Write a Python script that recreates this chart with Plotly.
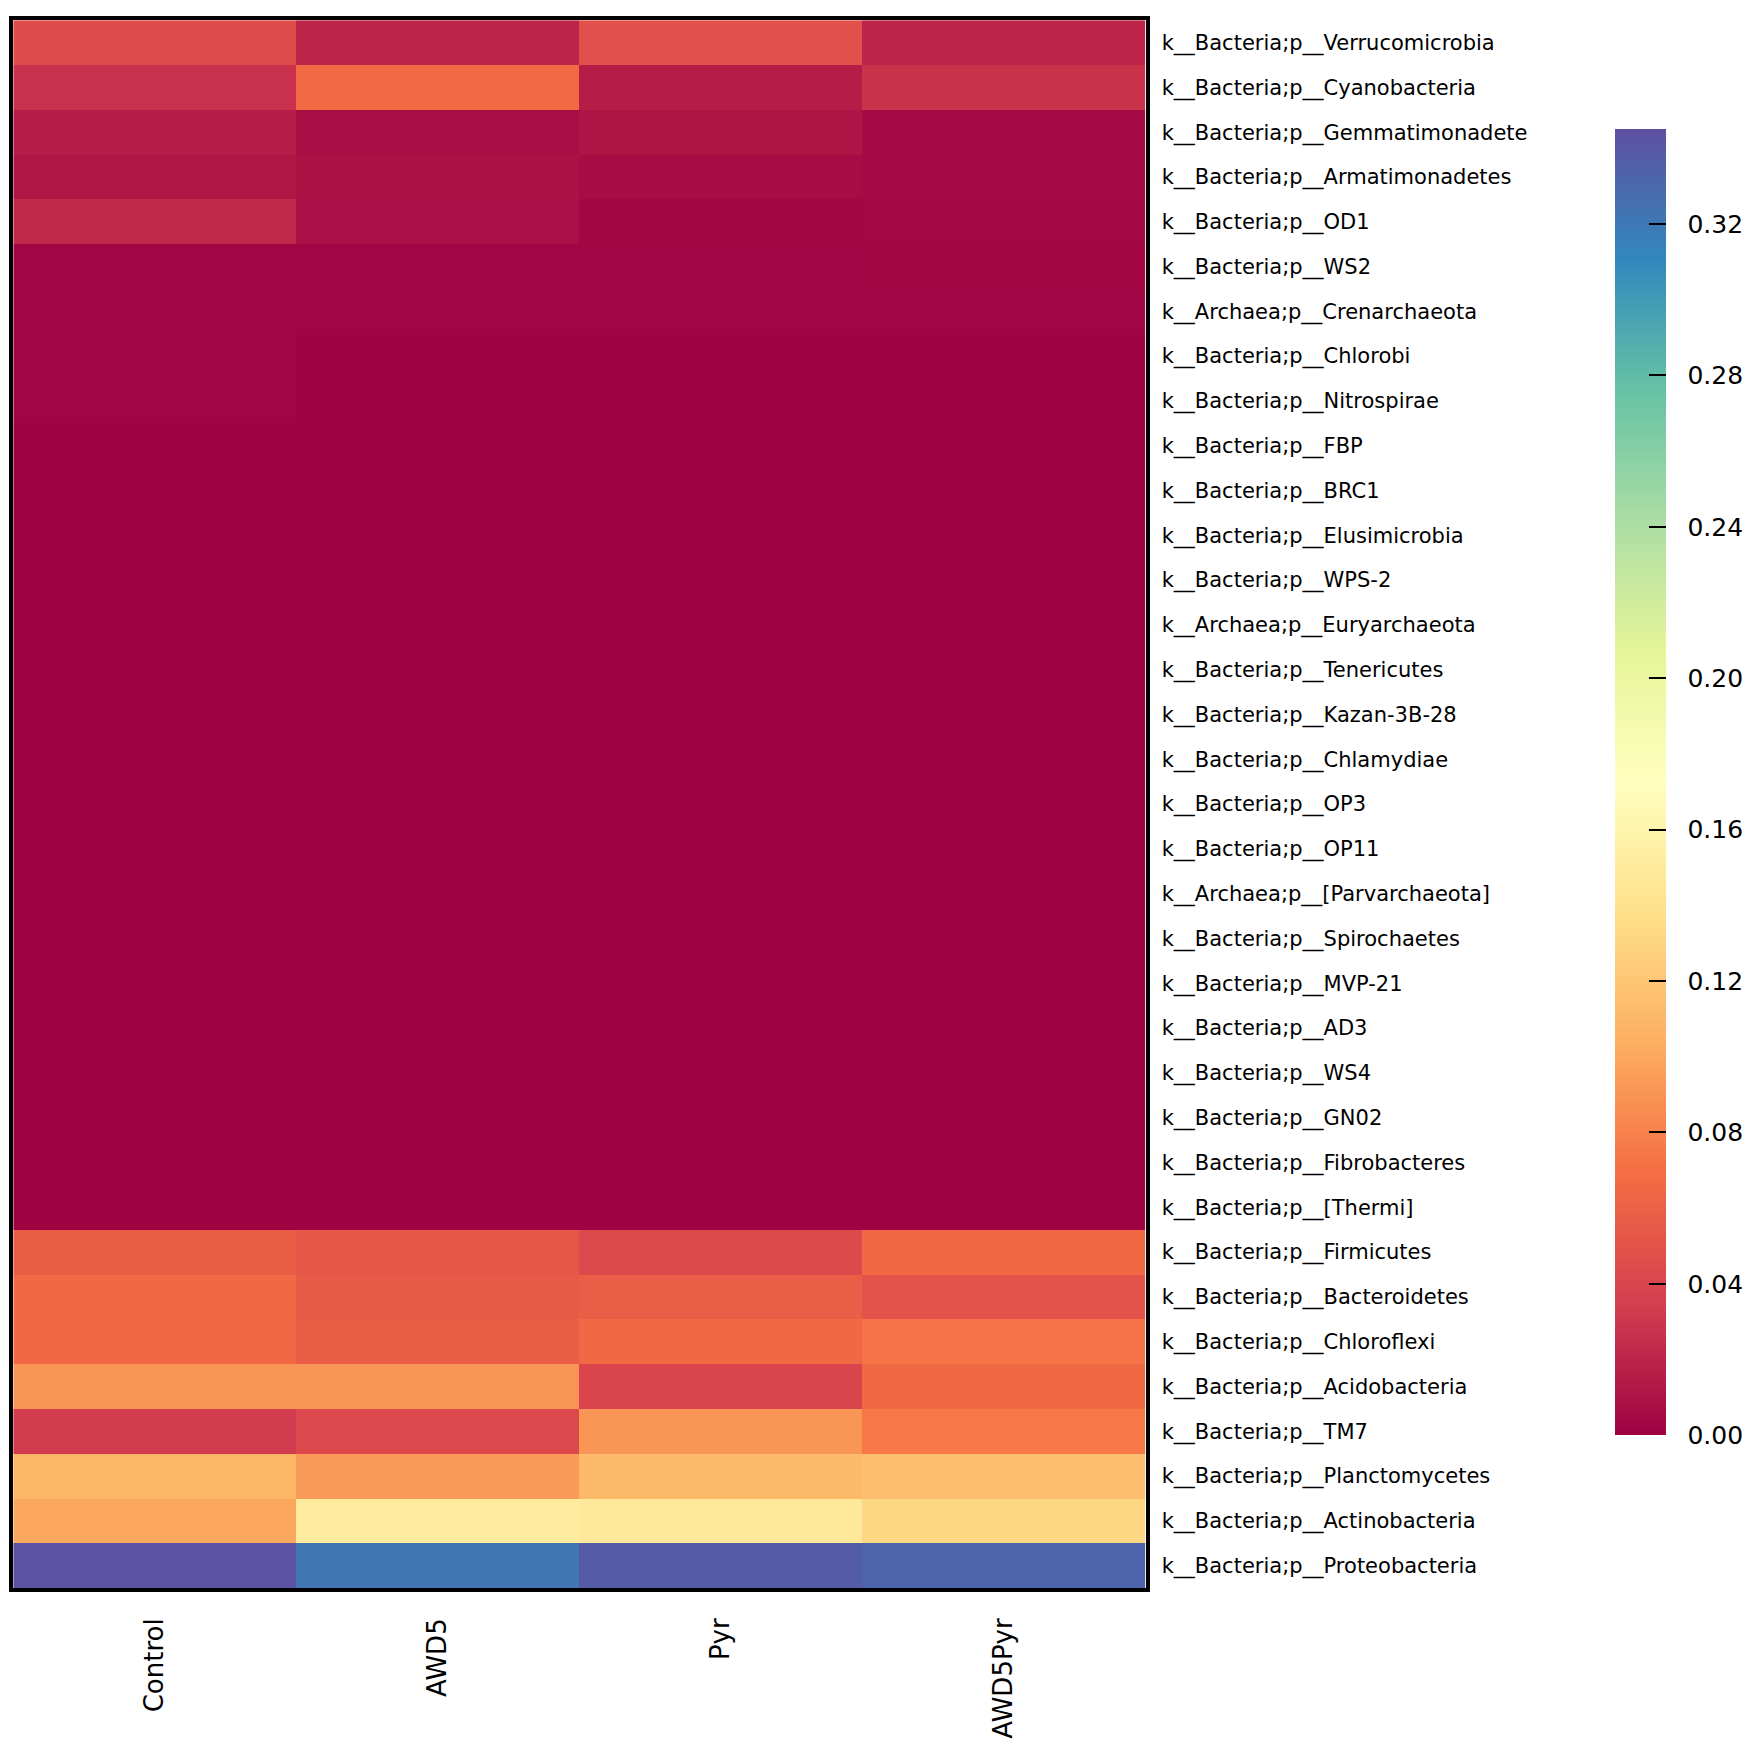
import plotly.graph_objects as go

# relative abundance of phyla per treatment (heatmap)
samples = ["Control", "AWD5", "Pyr", "AWD5Pyr"]

phyla = [
    "k__Bacteria;p__Verrucomicrobia",
    "k__Bacteria;p__Cyanobacteria",
    "k__Bacteria;p__Gemmatimonadete",
    "k__Bacteria;p__Armatimonadetes",
    "k__Bacteria;p__OD1",
    "k__Bacteria;p__WS2",
    "k__Archaea;p__Crenarchaeota",
    "k__Bacteria;p__Chlorobi",
    "k__Bacteria;p__Nitrospirae",
    "k__Bacteria;p__FBP",
    "k__Bacteria;p__BRC1",
    "k__Bacteria;p__Elusimicrobia",
    "k__Bacteria;p__WPS-2",
    "k__Archaea;p__Euryarchaeota",
    "k__Bacteria;p__Tenericutes",
    "k__Bacteria;p__Kazan-3B-28",
    "k__Bacteria;p__Chlamydiae",
    "k__Bacteria;p__OP3",
    "k__Bacteria;p__OP11",
    "k__Archaea;p__[Parvarchaeota]",
    "k__Bacteria;p__Spirochaetes",
    "k__Bacteria;p__MVP-21",
    "k__Bacteria;p__AD3",
    "k__Bacteria;p__WS4",
    "k__Bacteria;p__GN02",
    "k__Bacteria;p__Fibrobacteres",
    "k__Bacteria;p__[Thermi]",
    "k__Bacteria;p__Firmicutes",
    "k__Bacteria;p__Bacteroidetes",
    "k__Bacteria;p__Chloroflexi",
    "k__Bacteria;p__Acidobacteria",
    "k__Bacteria;p__TM7",
    "k__Bacteria;p__Planctomycetes",
    "k__Bacteria;p__Actinobacteria",
    "k__Bacteria;p__Proteobacteria",
]

control = [0.045, 0.027, 0.015, 0.012, 0.022, 0.002, 0.002, 0.002, 0.002, 0.001,
           0.001, 0.001, 0.001, 0.001, 0.001, 0.001, 0.001, 0.001, 0.001, 0.001,
           0.001, 0.001, 0.001, 0.001, 0.001, 0.001, 0.001, 0.057, 0.065, 0.065,
           0.090, 0.033, 0.108, 0.100, 0.343]
awd5 = [0.020, 0.067, 0.007, 0.009, 0.008, 0.002, 0.002, 0.001, 0.001, 0.001,
        0.001, 0.001, 0.001, 0.001, 0.001, 0.001, 0.001, 0.001, 0.001, 0.001,
        0.001, 0.001, 0.001, 0.001, 0.001, 0.001, 0.001, 0.053, 0.055, 0.057,
        0.090, 0.042, 0.093, 0.150, 0.322]
pyr = [0.048, 0.015, 0.011, 0.006, 0.003, 0.002, 0.002, 0.001, 0.001, 0.001,
       0.001, 0.001, 0.001, 0.001, 0.001, 0.001, 0.001, 0.001, 0.001, 0.001,
       0.001, 0.001, 0.001, 0.001, 0.001, 0.001, 0.001, 0.043, 0.058, 0.066,
       0.040, 0.090, 0.112, 0.148, 0.337]
awd5pyr = [0.020, 0.028, 0.005, 0.005, 0.004, 0.003, 0.002, 0.001, 0.001, 0.001,
           0.001, 0.001, 0.001, 0.001, 0.001, 0.001, 0.001, 0.001, 0.001, 0.001,
           0.001, 0.001, 0.001, 0.001, 0.001, 0.001, 0.001, 0.065, 0.050, 0.072,
           0.066, 0.075, 0.115, 0.132, 0.332]

cbar_ticks = [0.00, 0.04, 0.08, 0.12, 0.16, 0.20, 0.24, 0.28, 0.32]

# rows = phyla, columns = samples
z = [list(r) for r in zip(control, awd5, pyr, awd5pyr)]

font = "DejaVu Sans"

fig = go.Figure(go.Heatmap(
    z=z, x=samples, y=phyla,
    colorscale="Spectral",
    zmin=0, zmax=0.345,
    colorbar=dict(
        x=0.918, xanchor="left", y=0.555, yanchor="middle",
        len=0.7506, lenmode="fraction", ypad=0, xpad=0,
        thickness=51, thicknessmode="pixels",
        outlinewidth=0,
        tickvals=cbar_ticks,
        ticktext=["  %.2f" % t for t in cbar_ticks],
        ticks="inside", ticklen=17, tickwidth=2, tickcolor="black",
        tickfont=dict(family=font, size=25, color="black"),
    ),
))

fig.update_layout(
    width=1750, height=1740,
    margin=dict(l=0, r=0, t=0, b=0, autoexpand=False),
    paper_bgcolor="white", plot_bgcolor="white",
    font=dict(family=font, color="black"),
    xaxis=dict(
        domain=[0.003, 0.650],
        tickangle=-90, ticks="", ticklabelstandoff=16,
        tickfont=dict(size=26),
        showline=True, mirror=True, linewidth=4, linecolor="black",
    ),
    yaxis=dict(
        domain=[0.092, 0.993],
        autorange="reversed", side="right", ticks="",
        ticklabelstandoff=8,
        tickfont=dict(size=21),
        showline=True, mirror=True, linewidth=4, linecolor="black",
    ),
)

fig.write_html("out.html")
